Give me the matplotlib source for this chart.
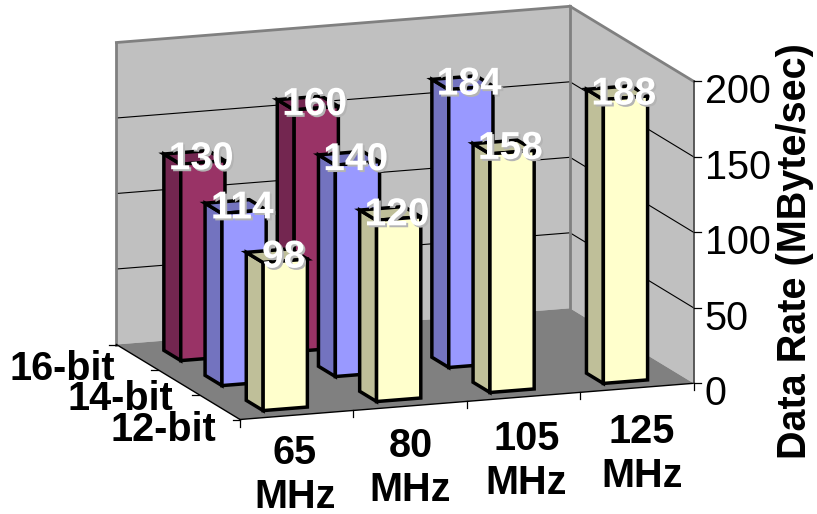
import numpy as np
import matplotlib
matplotlib.use("Agg")
import matplotlib.pyplot as plt
import matplotlib.patheffects as pe

plt.rcParams['font.family'] = ['Liberation Sans', 'DejaVu Sans']

# ---- data ----
freq_labels = ['65\nMHz', '80\nMHz', '105\nMHz', '125\nMHz']
res_labels = ['12-bit', '14-bit', '16-bit']
rate_12bit = [98, 120, 158, 188]
rate_14bit = [114, 140, 184, np.nan]
rate_16bit = [130, 160, np.nan, np.nan]
z_ticks = [0, 50, 100, 150, 200]
z_title = 'Data Rate (MByte/sec)'

series = [rate_12bit, rate_14bit, rate_16bit]
front_cols = ['#FFFFCC', '#9999FF', '#993366']
side_cols = ['#BFBF99', '#7373BF', '#732650']

W, H = 817, 514
FS = 28.5
fig = plt.figure(figsize=(W / 100, H / 100), dpi=100)
ax = fig.add_axes([0, 0, 1, 1])
ax.set_xlim(0, W)
ax.set_ylim(H, 0)
ax.axis('off')


def proj(x, y, z):
    """Parallel projection: x = frequency slot, y = resolution row, z = MByte/sec."""
    return (240 + 113.4 * x - 41.2 * y,
            419.5 - 9.05 * x - 25 * y - 1.51 * z)


def poly(pts, **kw):
    xy = np.array([proj(*p) for p in pts])
    ax.fill(xy[:, 0], xy[:, 1], **kw)


def line(a, b, **kw):
    xy = np.array([proj(*a), proj(*b)])
    ax.plot(xy[:, 0], xy[:, 1], solid_capstyle='projecting', **kw)


nx, ny, zmax = len(freq_labels), len(res_labels), z_ticks[-1]

# walls and floor
poly([(0, ny, 0), (nx, ny, 0), (nx, ny, zmax), (0, ny, zmax)], fc='#C0C0C0', ec='none', zorder=1)
poly([(nx, ny, 0), (nx, 0, 0), (nx, 0, zmax), (nx, ny, zmax)], fc='#C0C0C0', ec='none', zorder=1)
poly([(0, 0, 0), (nx, 0, 0), (nx, ny, 0), (0, ny, 0)], fc='#808080', ec='none', zorder=1)

# gridlines
for z in z_ticks[1:-1]:
    line((0, ny, z), (nx, ny, z), color='black', lw=0.8, zorder=2)
    line((nx, ny, z), (nx, 0, z), color='black', lw=0.8, zorder=2)

# wall borders
wall = dict(color='#808080', lw=2.0, zorder=2)
line((0, ny, 0), (0, ny, zmax), **wall)
line((0, ny, zmax), (nx, ny, zmax), **wall)
line((nx, ny, 0), (nx, ny, zmax), **wall)
line((nx, ny, zmax), (nx, 0, zmax), **wall)

# axes lines and ticks
line((0, 0, 0), (nx, 0, 0), color='black', lw=1.0, zorder=2)
line((0, 0, 0), (0, ny, 0), color='black', lw=1.0, zorder=2)
line((nx, 0, 0), (nx, 0, zmax), color='#404040', lw=1.2, zorder=2)
for i in range(nx + 1):
    px, py = proj(i, 0, 0)
    ax.plot([px, px], [py, py + 7], color='black', lw=0.9, zorder=2)
for j in range(ny + 1):
    px, py = proj(0, j, 0)
    ax.plot([px - 7, px], [py, py], color='black', lw=0.9, zorder=2)

# bars: back row first, right to left in a row
bw, bd = 0.39, 0.41
edge = dict(ec='black', lw=2.5, joinstyle='miter')
labels = []
z_base = 3
for j in reversed(range(ny)):
    for i in reversed(range(nx)):
        v = series[j][i]
        if np.isnan(v):
            continue
        x0, x1 = i + 0.295, i + 0.295 + bw
        y0, y1 = j + 0.25, j + 0.25 + bd
        poly([(x0, y0, 0), (x0, y1, 0), (x0, y1, v), (x0, y0, v)],
             fc=side_cols[j], zorder=z_base, **edge)
        poly([(x0, y0, v), (x0, y1, v), (x1, y1, v), (x1, y0, v)],
             fc=side_cols[j], zorder=z_base, **edge)
        poly([(x0, y0, 0), (x1, y0, 0), (x1, y0, v), (x0, y0, v)],
             fc=front_cols[j], zorder=z_base, **edge)
        z_base += 1
        labels.append((i, j, v))

# data labels on top of all bars
shadow = [pe.SimplePatchShadow(offset=(1.4, -1.4), shadow_rgbFace='#B4B4B4', alpha=1.0), pe.Normal()]
for i, j, v in labels:
    px, py = proj(i + 0.49, j + 0.46, v)
    ax.text(px + 7, py + 2, f'{v:g}', color='white', fontsize=FS - 0.5, fontweight='bold',
            ha='center', va='center', zorder=50, path_effects=shadow)

# frequency labels
for i, lab in enumerate(freq_labels):
    px, py = proj(i + 0.5, 0, 0)
    ax.text(px - 2 + 2.4 * i, py + 60 + 2 * i, lab, fontsize=FS, fontweight='bold', color='black',
            ha='center', va='center', linespacing=1.2, zorder=10)

# resolution labels
res_dx = [-3, -5, -22]
res_dy = [23, 17.5, 11.5]
for j, lab in enumerate(res_labels):
    px, py = proj(0, j + 0.5, 0)
    ax.text(px + res_dx[j], py + res_dy[j], lab, fontsize=FS, fontweight='bold', color='black',
            ha='right', va='center', zorder=10)

# z ticks
for z in z_ticks:
    px, py = proj(nx, 0, z)
    ax.plot([px, px + 7], [py, py], color='black', lw=0.9, zorder=2)
    ax.text(px + 11, py + 11, str(z), fontsize=FS, color='black', ha='left', va='center', zorder=10)

ax.text(795, 251, z_title, rotation=90, fontsize=FS, fontweight='bold', color='black',
        ha='center', va='center', zorder=10)

fig.savefig('out.png', dpi=100)
